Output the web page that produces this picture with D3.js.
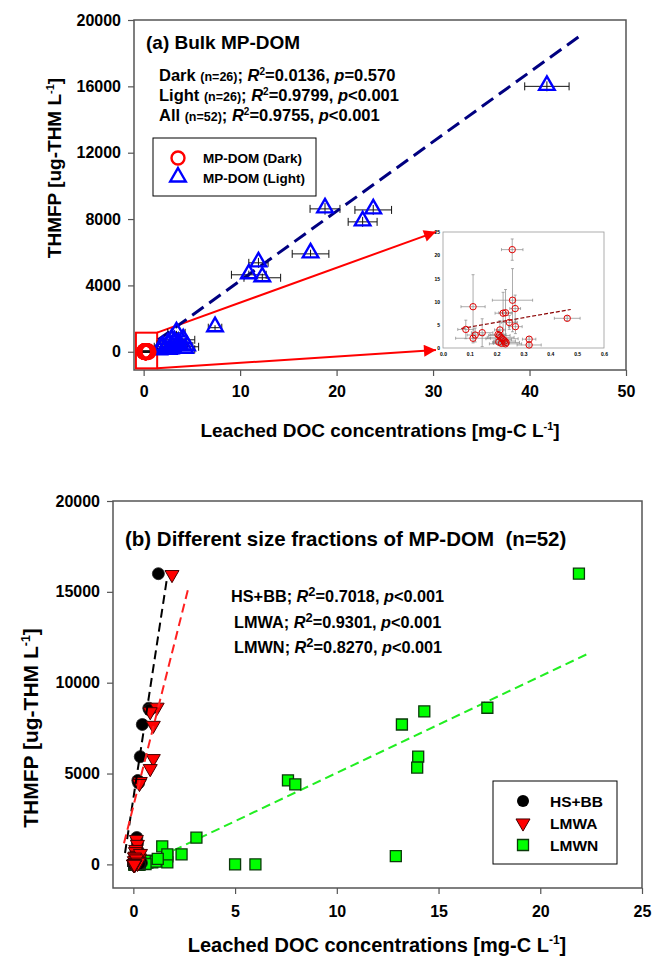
<!DOCTYPE html>
<html><head><meta charset="utf-8">
<script src="https://cdn.jsdelivr.net/npm/d3@7"></script>
<style>
body{margin:0;background:#fff}
svg{display:block}
text{font-family:"Liberation Sans",Arial,Helvetica,sans-serif;font-weight:bold;fill:#000}
</style>
</head><body>
<svg id="c" width="654" height="957"></svg>
<script>
// ---------------- DATA ----------------
// Panel (a): bulk MP-DOM, light (n=26)
const lightX    = [41.8, 18.8, 23.8, 22.7, 17.3, 11.9, 10.9, 12.3, 7.4, 3.4, 2.9, 4.1, 3.6, 2.0, 2.5, 3.0, 3.8, 4.3, 1.8, 2.2, 3.2, 2.6, 1.6, 3.5, 4.5, 2.8];
const lightY    = [16000, 8614, 8550, 7830, 5900, 5360, 4640, 4460, 1450, 1140, 720, 720, 500, 300, 450, 250, 350, 150, 200, 100, 600, 80, 50, 400, 300, 120];
const lightXErr = [2.3, 1.55, 1.9, 1.5, 1.9, 1.0, 1.8, 1.9, 0.7, 0.9, 1.0, 1.2, 0.8, 0.9, 1.1, 0.7, 1.3, 1.0, 0.6, 0.8, 1.1, 0.7, 0.5, 1.0, 1.2, 0.9];
const lightYErr = [300, 350, 300, 300, 250, 300, 250, 250, 150, 120, 100, 100, 80, 60, 70, 50, 60, 40, 40, 30, 80, 30, 20, 60, 50, 30];
// Panel (a): bulk MP-DOM, dark (n=26) — also shown in the inset
const darkX    = [0.258, 0.112, 0.259, 0.269, 0.224, 0.233, 0.247, 0.270, 0.463, 0.085, 0.212, 0.146, 0.120, 0.112, 0.210, 0.215, 0.220, 0.225, 0.230, 0.235, 0.218, 0.208, 0.321, 0.321, 0.233, 0.205];
const darkY    = [21.2, 8.9, 10.3, 8.5, 7.5, 7.6, 5.5, 4.6, 6.4, 4.0, 3.9, 3.3, 2.8, 2.1, 2.7, 2.3, 2.0, 1.8, 1.5, 1.2, 1.0, 1.3, 1.9, 0.65, 0.9, 2.9];
const darkXErr = [0.040, 0.045, 0.075, 0.020, 0.030, 0.025, 0.030, 0.025, 0.048, 0.030, 0.020, 0.040, 0.030, 0.065, 0.040, 0.050, 0.060, 0.030, 0.040, 0.050, 0.030, 0.020, 0.025, 0.045, 0.060, 0.030];
const darkYErr = [2.3, 6.9, 6.8, 2.9, 4.5, 5.0, 1.5, 1.5, 0.5, 2.0, 2.0, 3.0, 1.5, 1.0, 1.0, 0.8, 0.8, 0.5, 0.6, 0.4, 0.5, 0.8, 0.5, 0.4, 0.5, 1.0];
// regression lines (endpoints)
const fitAllX = [1.5, 45.5], fitAllY = [720, 19156];
const fitDarkX = [0.068, 0.476], fitDarkY = [4.2, 8.3];
// zoom box + arrow targets (data units of panel a)
const zoomBoxX = [-0.8, 1.4], zoomBoxY = [-1000, 1150];
const arrowToX = [30.3, 30.3], arrowToY = [7230, 110];

// Panel (b): size fractions (n=52 each)
const hsX = [1.23, 0.76, 0.80, 0.44, 0.34, 0.22, 0.26, 0.17, 0.20, 0.14, 0.25, 0.18, 0.10, 0.30, 0.22, 0.08, 0.35, 0.12, 0.06, 0.28, 0.40, 0.10, 0.20, 0.05, 0.15, 0.30,
             0.02, 0.03, 0.04, 0.01, 0.05, 0.02, 0.03, 0.06, 0.04, 0.02, 0.01, 0.03, 0.05, 0.02, 0.04, 0.03, 0.01, 0.02, 0.06, 0.03, 0.04, 0.02, 0.05, 0.01, 0.03, 0.04];
const hsY = [16000, 8600, 8500, 7700, 5930, 4620, 4480, 1480, 1150, 800, 720, 500, 300, 450, 250, 350, 150, 200, 100, 600, 80, 50, 400, 300, 120, 30,
             21, 9, 10, 8, 7, 8, 5, 5, 6, 4, 4, 3, 3, 2, 3, 2, 2, 2, 1, 1, 1, 1, 2, 1, 1, 3];
const lmwaX = [1.90, 1.17, 0.83, 0.98, 0.98, 0.83, 0.34, 0.30, 0.15, 0.20, 0.12, 0.10, 0.18, 0.25, 0.08, 0.14, 0.30, 0.22, 0.05, 0.12, 0.35, 0.10, 0.20, 0.06, 0.15, 0.25,
               0.03, 0.05, 0.04, 0.02, 0.06, 0.03, 0.04, 0.07, 0.05, 0.03, 0.02, 0.04, 0.06, 0.03, 0.05, 0.04, 0.02, 0.03, 0.07, 0.04, 0.05, 0.03, 0.06, 0.02, 0.04, 0.05];
const lmwaY = [15950, 8650, 8400, 7650, 5820, 5270, 4560, 4450, 1370, 1100, 820, 700, 500, 300, 450, 250, 350, 150, 200, 100, 600, 80, 50, 400, 300, 120,
               21, 9, 10, 8, 7, 8, 5, 5, 6, 4, 4, 3, 3, 2, 3, 2, 2, 2, 1, 1, 1, 1, 2, 1, 1, 3];
const lmwnX = [21.9, 17.4, 14.3, 13.2, 14.0, 13.95, 7.6, 7.96, 3.1, 12.9, 5.0, 6.0, 2.37, 1.67, 1.67, 1.42, 1.67, 0.93, 0.69, 0.49, 0.20, 0.80, 1.10, 0.35, 0.60, 1.20,
               0.15, 0.10, 0.20, 0.08, 0.25, 0.12, 0.18, 0.30, 0.22, 0.10, 0.06, 0.14, 0.28, 0.09, 0.20, 0.16, 0.05, 0.11, 0.32, 0.13, 0.24, 0.07, 0.26, 0.04, 0.17, 0.21];
const lmwnY = [16000, 8620, 8420, 7700, 5930, 5330, 4620, 4400, 1470, 450, 0, 0, 550, 440, 110, 990, 550, 110, 100, 50, 30, 200, 150, 80, 20, 300,
               21, 9, 10, 8, 7, 8, 5, 5, 6, 4, 4, 3, 3, 2, 3, 2, 2, 2, 1, 1, 1, 1, 2, 1, 1, 3];
const fitHsX = [-0.41, 1.64], fitHsY = [627, 15650];
const fitLmwaX = [-0.46, 2.70], fitLmwaY = [1160, 15195];
const fitLmwnX = [1.97, 22.45], fitLmwnY = [770, 11650];

// ticks
const aXTicks = [0, 10, 20, 30, 40, 50];
const aYTicks = [0, 4000, 8000, 12000, 16000, 20000];
const insetXTicks = [0, 0.1, 0.2, 0.3, 0.4, 0.5, 0.6];
const insetYTicks = [0, 5, 10, 15, 20, 25];
const bXTicks = [0, 5, 10, 15, 20, 25];
const bYTicks = [0, 5000, 10000, 15000, 20000];

// ---------------- DRAW ----------------
const svg = d3.select('#c');
const FRAME = '#555';

svg.append('defs').append('marker')
  .attr('id','arr').attr('viewBox','0 0 10 10').attr('refX',10).attr('refY',5)
  .attr('markerWidth',7).attr('markerHeight',6).attr('markerUnits','strokeWidth')
  .attr('orient','auto')
  .append('path').attr('d','M0,0 L10,5 L0,10 Z').attr('fill','#ff0000');

function rich(g, x, y, segs, size, opts) {
  opts = opts || {};
  const t = g.append('text').attr('x', x).attr('y', y).attr('font-size', size)
    .attr('text-anchor', opts.anchor || 'start');
  if (opts.transform) t.attr('transform', opts.transform);
  let shift = 0;
  segs.forEach(s => {
    const ts = t.append('tspan').text(s.t);
    if (s.size) ts.attr('font-size', s.size);
    if (s.i) ts.attr('font-style', 'italic');
    const want = s.sup ? -s.sup : 0;
    if (want !== shift) { ts.attr('dy', want - shift); shift = want; }
  });
  return t;
}

function styleAxis(g, fs) {
  g.selectAll('path.domain').remove();
  g.selectAll('.tick line').attr('stroke', FRAME).attr('stroke-width', 1.2);
  g.selectAll('.tick text').attr('font-size', fs).attr('font-family','"Liberation Sans",Arial,sans-serif').attr('font-weight','bold').attr('fill','#000');
}

function frame(g, xs, ys, w) {
  const [x0, x1] = xs.range(), [y0, y1] = ys.range();
  g.append('rect').attr('x', x0).attr('y', y1).attr('width', x1 - x0).attr('height', y0 - y1)
    .attr('fill', 'none').attr('stroke', FRAME).attr('stroke-width', w || 1.5);
}

// ===== Panel (a) =====
const xa = d3.scaleLinear().domain([-1, 50]).range([134, 626]);
const ya = d3.scaleLinear().domain([-1100, 20000]).range([370, 20]);
const ga = svg.append('g');

frame(ga, xa, ya);
styleAxis(ga.append('g').attr('transform', `translate(0,${ya.range()[0]})`)
  .call(d3.axisBottom(xa).tickValues(aXTicks).tickSize(6).tickPadding(10).tickFormat(d3.format('d'))), 16);
styleAxis(ga.append('g').attr('transform', `translate(${xa.range()[0]},0)`)
  .call(d3.axisLeft(ya).tickValues(aYTicks).tickSize(6).tickPadding(7).tickFormat(d3.format('d'))), 16);

// zoom box and arrows
ga.append('rect').attr('x', xa(zoomBoxX[0])).attr('y', ya(zoomBoxY[1]))
  .attr('width', xa(zoomBoxX[1]) - xa(zoomBoxX[0])).attr('height', ya(zoomBoxY[0]) - ya(zoomBoxY[1]))
  .attr('fill', 'none').attr('stroke', '#ff0000').attr('stroke-width', 2);
[zoomBoxY[1], zoomBoxY[0]].forEach((y0, i) => {
  ga.append('line').attr('x1', xa(zoomBoxX[1])).attr('y1', ya(y0))
    .attr('x2', xa(arrowToX[i])).attr('y2', ya(arrowToY[i]))
    .attr('stroke', '#ff0000').attr('stroke-width', 2).attr('marker-end', 'url(#arr)');
});

// error bars (light)
const ebA = ga.append('g').attr('stroke', '#111').attr('stroke-width', 1);
lightX.forEach((x, i) => {
  const y = lightY[i], xe = lightXErr[i], ye = lightYErr[i];
  ebA.append('line').attr('x1', xa(x - xe)).attr('x2', xa(x + xe)).attr('y1', ya(y)).attr('y2', ya(y));
  ebA.append('line').attr('x1', xa(x - xe)).attr('x2', xa(x - xe)).attr('y1', ya(y) - 4).attr('y2', ya(y) + 4);
  ebA.append('line').attr('x1', xa(x + xe)).attr('x2', xa(x + xe)).attr('y1', ya(y) - 4).attr('y2', ya(y) + 4);
  ebA.append('line').attr('x1', xa(x)).attr('x2', xa(x)).attr('y1', ya(y - ye)).attr('y2', ya(y + ye));
});
darkX.forEach((x, i) => {
  const y = darkY[i];
  ebA.append('line').attr('x1', xa(x - darkXErr[i]) - 6).attr('x2', xa(x + darkXErr[i]) + 6).attr('y1', ya(y)).attr('y2', ya(y)).attr('stroke-width', 1.5);
});

// regression (all)
ga.append('line').attr('x1', xa(fitAllX[0])).attr('y1', ya(fitAllY[0]))
  .attr('x2', xa(fitAllX[1])).attr('y2', ya(fitAllY[1]))
  .attr('stroke', '#000080').attr('stroke-width', 3).attr('stroke-dasharray', '14,7');

// light triangles
const tri = d3.symbol().type(d3.symbolTriangle).size(105);
ga.append('g').selectAll('path').data(lightX).join('path')
  .attr('d', tri).attr('transform', (d, i) => `translate(${xa(d)},${ya(lightY[i]) - 1})`)
  .attr('fill', 'none').attr('stroke', '#0000ff').attr('stroke-width', 2.4);
// dark circles
ga.append('g').selectAll('circle').data(darkX).join('circle')
  .attr('cx', d => xa(d)).attr('cy', (d, i) => ya(darkY[i])).attr('r', 7)
  .attr('fill', 'none').attr('stroke', '#ff0000').attr('stroke-width', 3);

// title + stats
ga.append('text').attr('x', 146).attr('y', 49).attr('font-size', 19).text('(a) Bulk MP-DOM');
const statA = [
  ['Dark ', '(n=26)', '0.0136', '=0.570'],
  ['Light ', '(n=26)', '0.9799', '<0.001'],
  ['All ', '(n=52)', '0.9755', '<0.001']
];
statA.forEach((s, i) => {
  rich(ga, 159, 81 + i * 20, [
    {t: s[0]}, {t: s[1], size: 12.5}, {t: '; '}, {t: 'R', i: 1}, {t: '2', size: 10, sup: 6},
    {t: '=' + s[2] + ', '}, {t: 'p', i: 1}, {t: s[3]}
  ], 16.5);
});

// legend (a)
ga.append('rect').attr('x', 153).attr('y', 138).attr('width', 163).attr('height', 58)
  .attr('fill', '#fff').attr('stroke', '#000').attr('stroke-width', 1);
ga.append('circle').attr('cx', 178).attr('cy', 158).attr('r', 6.5).attr('fill', 'none').attr('stroke', '#ff0000').attr('stroke-width', 2.4);
ga.append('path').attr('d', tri).attr('transform', 'translate(178,177)').attr('fill', 'none').attr('stroke', '#0000ff').attr('stroke-width', 2.4);
ga.append('text').attr('x', 203).attr('y', 163).attr('font-size', 13.5).text('MP-DOM (Dark)');
ga.append('text').attr('x', 203).attr('y', 183).attr('font-size', 13.5).text('MP-DOM (Light)');

// axis titles (a)
rich(ga, 380, 437, [{t: 'Leached DOC concentrations [mg-C L'}, {t: '-1', size: 11, sup: 7}, {t: ']'}], 19, {anchor: 'middle'});
rich(ga, 0, 0, [{t: 'THMFP [ug-THM L'}, {t: '-1', size: 11, sup: 7}, {t: ']'}], 19,
  {anchor: 'middle', transform: 'translate(61,168) rotate(-90)'});

// ===== Inset =====
const xi = d3.scaleLinear().domain([0, 0.6]).range([443, 604]);
const yi = d3.scaleLinear().domain([0, 25]).range([348, 232]);
const gi = svg.append('g');
gi.append('rect').attr('x', 443).attr('y', 232).attr('width', 161).attr('height', 116)
  .attr('fill', '#fff').attr('stroke', '#999').attr('stroke-width', 0.8);
const ixa = gi.append('g').attr('transform', 'translate(0,348)')
  .call(d3.axisBottom(xi).tickValues(insetXTicks).tickSize(0).tickPadding(4).tickFormat(d3.format('.1f')));
const iya = gi.append('g').attr('transform', 'translate(443,0)')
  .call(d3.axisLeft(yi).tickValues(insetYTicks).tickSize(0).tickPadding(3).tickFormat(d3.format('d')));
[ixa, iya].forEach(g => { g.selectAll('path.domain').remove(); g.selectAll('.tick text').attr('font-size', 5).attr('font-family','"Liberation Sans",Arial,sans-serif').attr('font-weight','normal').attr('fill','#333'); });
const ebi = gi.append('g').attr('stroke', '#888').attr('stroke-width', 0.7);
darkX.forEach((x, i) => {
  const y = darkY[i], xe = darkXErr[i], ye = darkYErr[i];
  ebi.append('line').attr('x1', xi(x - xe)).attr('x2', xi(x + xe)).attr('y1', yi(y)).attr('y2', yi(y));
  ebi.append('line').attr('x1', xi(x)).attr('x2', xi(x)).attr('y1', yi(Math.max(0, y - ye))).attr('y2', yi(y + ye));
  [x - xe, x + xe].forEach(v => ebi.append('line').attr('x1', xi(v)).attr('x2', xi(v)).attr('y1', yi(y) - 1.5).attr('y2', yi(y) + 1.5));
  [Math.max(0, y - ye), y + ye].forEach(v => ebi.append('line').attr('x1', xi(x) - 1.5).attr('x2', xi(x) + 1.5).attr('y1', yi(v)).attr('y2', yi(v)));
});
gi.append('line').attr('x1', xi(fitDarkX[0])).attr('y1', yi(fitDarkY[0])).attr('x2', xi(fitDarkX[1])).attr('y2', yi(fitDarkY[1]))
  .attr('stroke', '#8b0000').attr('stroke-width', 1.2).attr('stroke-dasharray', '4,2');
gi.append('g').selectAll('circle').data(darkX).join('circle')
  .attr('cx', d => xi(d)).attr('cy', (d, i) => yi(darkY[i])).attr('r', 3.2)
  .attr('fill', 'none').attr('stroke', '#e00000').attr('stroke-width', 1);

// ===== Panel (b) =====
const xb = d3.scaleLinear().domain([-1, 25]).range([113, 642]);
const yb = d3.scaleLinear().domain([-1300, 20000]).range([888, 501]);
const gb = svg.append('g');
frame(gb, xb, yb);
styleAxis(gb.append('g').attr('transform', `translate(0,${yb.range()[0]})`)
  .call(d3.axisBottom(xb).tickValues(bXTicks).tickSize(6).tickPadding(12).tickFormat(d3.format('d'))), 16);
styleAxis(gb.append('g').attr('transform', `translate(${xb.range()[0]},0)`)
  .call(d3.axisLeft(yb).tickValues(bYTicks).tickSize(6).tickPadding(7).tickFormat(d3.format('d'))), 16);

function fitLine(xs, ys, color) {
  gb.append('line').attr('x1', xb(xs[0])).attr('y1', yb(ys[0])).attr('x2', xb(xs[1])).attr('y2', yb(ys[1]))
    .attr('stroke', color).attr('stroke-width', 2).attr('stroke-dasharray', '9,5');
}
fitLine(fitLmwnX, fitLmwnY, '#22ee22');

const sq = d3.symbol().type(d3.symbolSquare).size(121);
const triB = d3.symbol().type(d3.symbolTriangle).size(85);
gb.append('g').selectAll('path').data(lmwnX).join('path')
  .attr('d', sq).attr('transform', (d, i) => `translate(${xb(d)},${yb(lmwnY[i])})`)
  .attr('fill', '#00ff00').attr('stroke', '#0a3a0a').attr('stroke-width', 1.3);
gb.append('g').selectAll('circle').data(hsX).join('circle')
  .attr('cx', d => xb(d)).attr('cy', (d, i) => yb(hsY[i])).attr('r', 6)
  .attr('fill', '#000').attr('stroke', '#222').attr('stroke-width', 0.8);
gb.append('g').selectAll('path').data(lmwaX).join('path')
  .attr('d', triB).attr('transform', (d, i) => `translate(${xb(d)},${yb(lmwaY[i])}) rotate(180)`)
  .attr('fill', '#ff0000').attr('stroke', '#400').attr('stroke-width', 1);
fitLine(fitHsX, fitHsY, '#000');
fitLine(fitLmwaX, fitLmwaY, '#ff2020');

gb.append('text').attr('x', 125).attr('y', 546).attr('font-size', 20.5).attr('xml:space', 'preserve')
  .text('(b) Different size fractions of MP-DOM  (n=52)');
const statB = [['HS+BB', '0.7018', 231], ['LMWA', '0.9301', 234], ['LMWN', '0.8270', 234]];
statB.forEach((s, i) => {
  rich(gb, s[2], 602 + i * 25.5, [
    {t: s[0] + '; '}, {t: 'R', i: 1}, {t: '2', size: 13, sup: 6}, {t: '=' + s[1] + ', '}, {t: 'p', i: 1}, {t: '<0.001'}
  ], 16.3);
});

// legend (b)
gb.append('rect').attr('x', 493).attr('y', 781).attr('width', 124).attr('height', 83)
  .attr('fill', '#fff').attr('stroke', '#000').attr('stroke-width', 1);
gb.append('circle').attr('cx', 523).attr('cy', 801).attr('r', 6).attr('fill', '#000');
gb.append('path').attr('d', triB).attr('transform', 'translate(523,823) rotate(180)').attr('fill', '#ff0000').attr('stroke', '#400').attr('stroke-width', 1);
gb.append('path').attr('d', sq).attr('transform', 'translate(523,845)').attr('fill', '#00ff00').attr('stroke', '#0a3a0a').attr('stroke-width', 1.3);
[['HS+BB', 807], ['LMWA', 829], ['LMWN', 851]].forEach(d => gb.append('text').attr('x', 550).attr('y', d[1]).attr('font-size', 15.5).text(d[0]));

rich(gb, 377, 952, [{t: 'Leached DOC concentrations [mg-C L'}, {t: '-1', size: 12, sup: 8}, {t: ']'}], 20, {anchor: 'middle'});
rich(gb, 0, 0, [{t: 'THMFP [ug-THM L'}, {t: '-1', size: 12.5, sup: 8}, {t: ']'}], 21,
  {anchor: 'middle', transform: 'translate(38,728) rotate(-90)'});
</script>
</body></html>
